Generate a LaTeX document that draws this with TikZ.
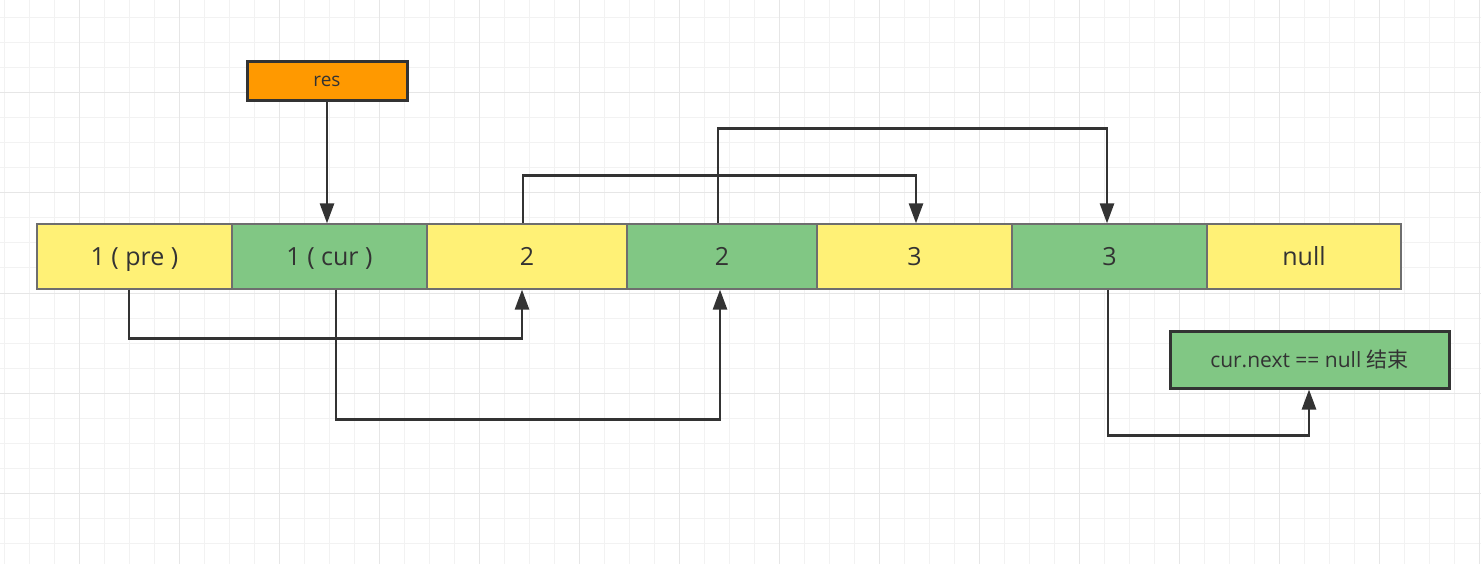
\documentclass[tikz,border=0pt]{standalone}
\usepackage{fontspec}
\setmainfont{Open Sans}
\newfontfamily\cjk{Noto Sans CJK SC}
\usetikzlibrary{arrows.meta}
\definecolor{cy}{HTML}{FFF176}
\definecolor{cg}{HTML}{81C784}
\definecolor{co}{HTML}{FF9900}
\definecolor{ln}{HTML}{333333}
\definecolor{cb}{HTML}{6E6E6E}
\definecolor{gminor}{HTML}{F2F2F2}
\definecolor{gmajor}{HTML}{E6E6E6}
\begin{document}
\begin{tikzpicture}[x=1pt,y=-1pt,
  cell/.style={draw=cb, line width=1.2pt, minimum height=65pt, inner sep=0pt,
    font=\fontsize{25}{30}\selectfont, text=ln, text height=17.5pt, text depth=0pt},
  ycell/.style={cell, fill=cy},
  gcell/.style={cell, fill=cg},
  tagbox/.style={draw=ln, line width=3pt, inner sep=0pt, text=ln},
  arr/.style={draw=ln, line width=2.6pt, -{Triangle[length=20pt,width=14pt]}},
]
\useasboundingbox (0,0) rectangle (1481,564);
\fill[white] (0,0) rectangle (1481,564);
% grid
\foreach \x in {4,29,...,1479} \draw[gminor, line width=1pt] (\x,0) -- (\x,564);
\foreach \y in {18,43,...,560} \draw[gminor, line width=1pt] (0,\y) -- (1481,\y);
\foreach \x in {79,179,...,1479} \draw[gmajor, line width=1pt] (\x,0) -- (\x,564);
\foreach \y in {93,193,...,493} \draw[gmajor, line width=1pt] (0,\y) -- (1481,\y);

% cells
\node[ycell, minimum width=195pt] (c1) at (134.5,256.5) {1 ( pre )};
\node[gcell, minimum width=195pt] (c2) at (329.5,256.5) {1 ( cur )};
\node[ycell, minimum width=200pt] (c3) at (527,256.5) {2};
\node[gcell, minimum width=190pt] (c4) at (722,256.5) {2};
\node[ycell, minimum width=195pt] (c5) at (914.5,256.5) {3};
\node[gcell, minimum width=195pt] (c6) at (1109.5,256.5) {3};
\node[ycell, minimum width=194pt] (c7) at (1304,256.5) {null};

% tags
\node[tagbox, fill=co, minimum width=160pt, minimum height=39pt,
  font=\fontsize{19}{23}\selectfont, text height=10pt, text depth=0pt] (res) at (327,81.5) {res};
\node[tagbox, fill=cg, minimum width=279pt, minimum height=57pt,
  font=\fontsize{21}{25}\selectfont, text height=15pt, text depth=0pt] (end) at (1309.5,359.5) {cur.next == null {\cjk 结束}};

% connectors
\draw[arr] (res.south) -- (res.south |- c2.north);
\draw[arr] ([xshift=-5.5pt]c1.south) -- ++(0,49) -| ([xshift=-5pt]c3.south);
\draw[arr] ([xshift=6.5pt]c2.south) -- ++(0,130) -| ([xshift=-2pt]c4.south);
\draw[arr] ([xshift=-4pt]c3.north) -- ++(0,-48) -| ([xshift=1.5pt]c5.north);
\draw[arr] ([xshift=-4pt]c4.north) -- ++(0,-95) -| ([xshift=-2.5pt]c6.north);
\draw[arr] ([xshift=-1.5pt]c6.south) -- ++(0,146) -| ([xshift=-0.5pt]end.south);
\end{tikzpicture}
\end{document}
